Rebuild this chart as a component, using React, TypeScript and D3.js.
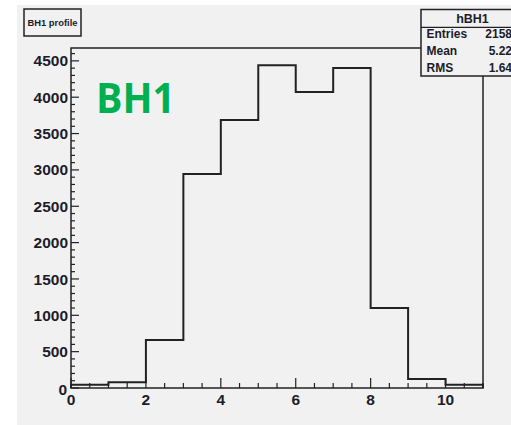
import React from "react";
import * as d3 from "d3";

const binLow = [0, 1, 2, 3, 4, 5, 6, 7, 8, 9, 10];
const binWidth = 1;
const counts = [45, 78, 660, 2943, 3686, 4440, 4071, 4402, 1100, 124, 45];
const xTicks = [0, 2, 4, 6, 8, 10];
const yTicks = [0, 500, 1000, 1500, 2000, 2500, 3000, 3500, 4000, 4500];
const statLabels = ["Entries", "Mean", "RMS"];
const statValues = ["2158", "5.22", "1.64"];
const histName = "hBH1";
const titleText = "BH1 profile";
const overlayText = "BH1";

const W = 511;
const H = 425;
const X0 = 71, X1 = 483, Y0 = 388, Y1 = 48;

export default function App() {
  const x = d3.scaleLinear().domain([0, 11]).range([X0, X1]);
  const y = d3.scaleLinear().domain([0, 4677]).range([Y0, Y1]);

  const pts: [number, number][] = [[0, 0]];
  binLow.forEach((lo, i) => {
    pts.push([lo, counts[i]]);
    pts.push([lo + binWidth, counts[i]]);
  });
  pts.push([11, 0]);
  const path = d3.line<[number, number]>().x((d) => x(d[0])).y((d) => y(d[1]))(pts) || "";

  const yMinor = d3.range(0, 4677, 100);
  const xMinor = d3.range(0, 11.001, 0.5);
  const font = "'Liberation Sans', Arial, sans-serif";
  const ink = "#1c1c2a";

  return (
    <svg width={W} height={H} style={{ position: "absolute", left: 0, top: 0 }} fontFamily={font}>
      <rect x={0} y={0} width={W} height={H} fill="#ffffff" />
      <rect x={17} y={5} width={W - 17} height={H - 5} fill="#f1f1f1" />
      {/* frame */}
      <rect x={X0} y={Y1} width={X1 - X0} height={Y0 - Y1} fill="none" stroke="#222" strokeWidth={1.5} />
      {/* y ticks */}
      {yMinor.map((v) => {
        const major = v % 500 === 0;
        return (
          <line key={"ym" + v} x1={X0} x2={X0 + (major ? 8 : 4)} y1={y(v)} y2={y(v)} stroke="#222" strokeWidth={1.2} />
        );
      })}
      {yTicks.map((v) => (
        <text key={"yl" + v} x={v === 0 ? 67 : 68} y={v === 0 ? y(v) + 1 : y(v)} dy="0.36em" textAnchor="end" fontSize={15.5} fontWeight="bold" fill={ink}>
          {v}
        </text>
      ))}
      {/* x ticks */}
      {xMinor.map((v) => {
        const major = Math.abs(v % 2) < 1e-6;
        return (
          <line key={"xm" + v} x1={x(v)} x2={x(v)} y1={Y0} y2={Y0 - (major ? 10 : 5)} stroke="#222" strokeWidth={1.2} />
        );
      })}
      {xTicks.map((v) => (
        <text key={"xl" + v} x={x(v)} y={405} textAnchor="middle" fontSize={15.5} fontWeight="bold" fill={ink}>
          {v}
        </text>
      ))}
      {/* histogram */}
      <path d={path} fill="none" stroke="#222" strokeWidth={2} />
      {/* overlay label */}
      <text x={96} y={113} fontSize={41} fontWeight="bold" fill="#00b050" fontFamily="'Open Sans', 'Liberation Sans', sans-serif" textLength={79} lengthAdjust="spacingAndGlyphs">
        {overlayText}
      </text>
      {/* title box */}
      <rect x={24} y={9} width={57} height={27} fill="#f1f1f1" stroke="#222" strokeWidth={1.5} />
      <text x={52.5} y={25.5} textAnchor="middle" fontSize={9.4} fontWeight="bold" fill={ink}>
        {titleText}
      </text>
      {/* stats box */}
      <rect x={421} y={9.5} width={100} height={66.5} fill="#f1f1f1" stroke="#222" strokeWidth={1.5} />
      <line x1={421} x2={W} y1={27.3} y2={27.3} stroke="#222" strokeWidth={1.2} />
      <text x={472.5} y={23} textAnchor="middle" fontSize={12.5} fontWeight="bold" fill={ink}>
        {histName}
      </text>
      {statLabels.map((s, i) => (
        <g key={s}>
          <text x={426.5} y={38 + i * 17} fontSize={12} fontWeight="bold" fill={ink}>
            {s}
          </text>
          <text x={512} y={38 + i * 17} textAnchor="end" fontSize={12} fontWeight="bold" fill={ink}>
            {statValues[i]}
          </text>
        </g>
      ))}
    </svg>
  );
}
